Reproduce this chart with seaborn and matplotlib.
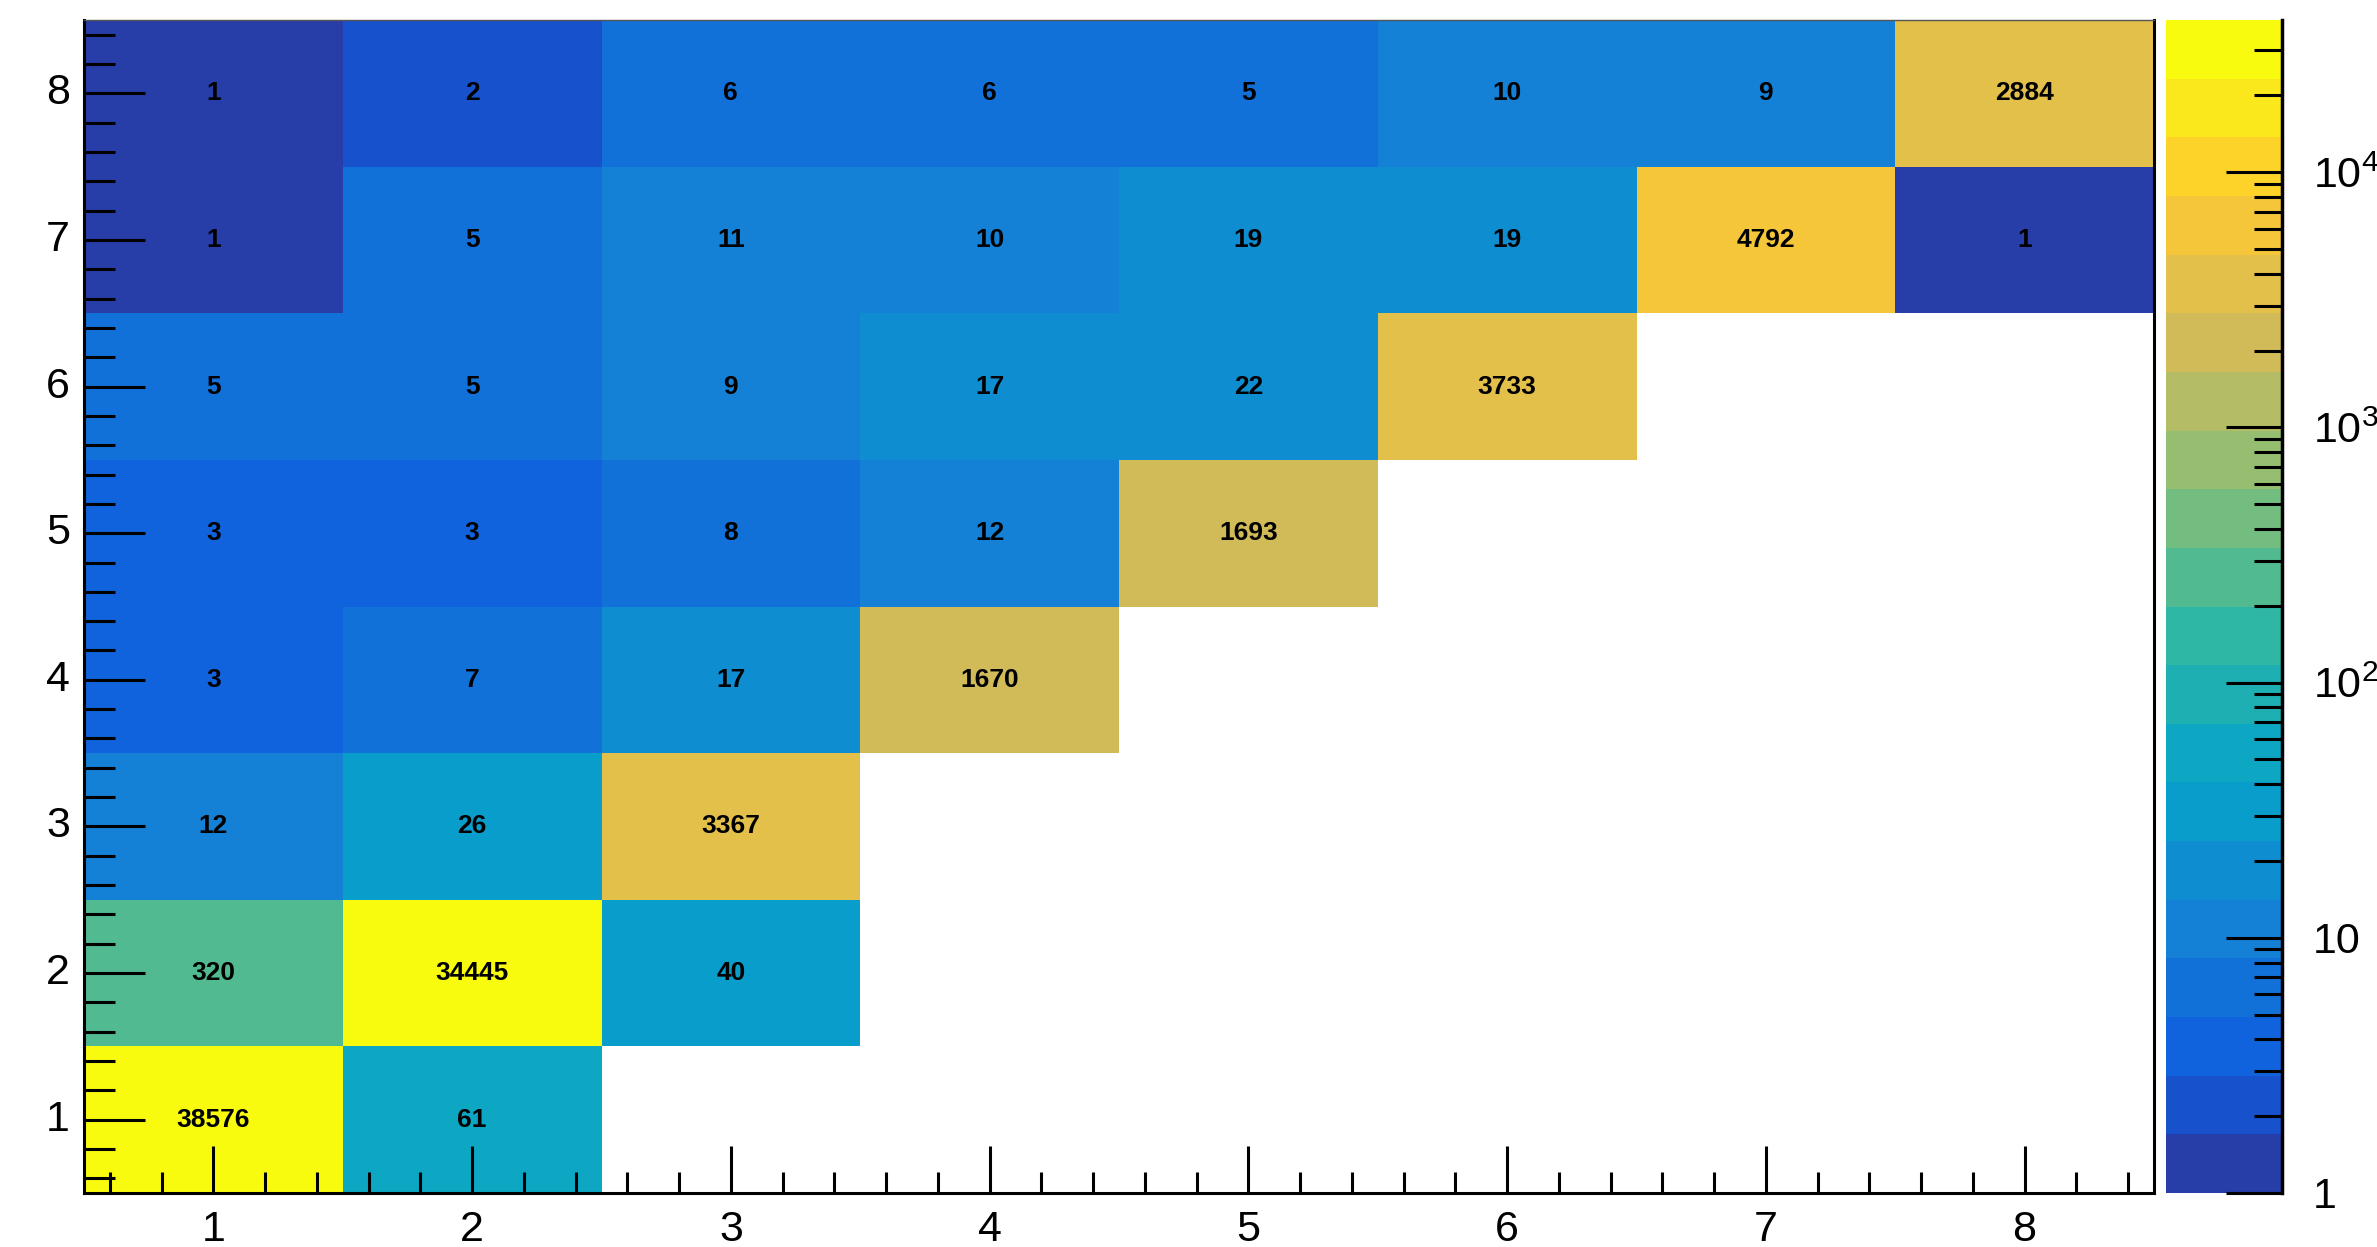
import numpy as np
import pandas as pd
import matplotlib
matplotlib.use("Agg")
import matplotlib.pyplot as plt
import seaborn as sns
from matplotlib.colors import ListedColormap, LogNorm
from matplotlib.ticker import FixedLocator, FixedFormatter, NullFormatter

# ---- data ----
x_labels = ["1", "2", "3", "4", "5", "6", "7", "8"]
y_labels = ["1", "2", "3", "4", "5", "6", "7", "8"]
row_1 = [38576, 61, np.nan, np.nan, np.nan, np.nan, np.nan, np.nan]
row_2 = [320, 34445, 40, np.nan, np.nan, np.nan, np.nan, np.nan]
row_3 = [12, 26, 3367, np.nan, np.nan, np.nan, np.nan, np.nan]
row_4 = [3, 7, 17, 1670, np.nan, np.nan, np.nan, np.nan]
row_5 = [3, 3, 8, 12, 1693, np.nan, np.nan, np.nan]
row_6 = [5, 5, 9, 17, 22, 3733, np.nan, np.nan]
row_7 = [1, 5, 11, 10, 19, 19, 4792, 1]
row_8 = [1, 2, 6, 6, 5, 10, 9, 2884]
z_min = 1
z_max = 39500
n_levels = 20

rows = [row_8, row_7, row_6, row_5, row_4, row_3, row_2, row_1]
df = pd.DataFrame(rows, index=y_labels[::-1], columns=x_labels)

# ---- ROOT kBird palette ----
stops = np.linspace(0, 1, 9)
red = [0.2082, 0.0592, 0.0780, 0.0232, 0.1802, 0.5301, 0.8186, 0.9956, 0.9764]
green = [0.1664, 0.3599, 0.5041, 0.6419, 0.7178, 0.7492, 0.7328, 0.7862, 0.9832]
blue = [0.5293, 0.8684, 0.8385, 0.7914, 0.6425, 0.4662, 0.3499, 0.1968, 0.0539]
colors = []
for i in range(n_levels):
    idx = int((i + 0.99) * 255 / n_levels)
    f = min(idx, 254) / 254.0
    colors.append((np.interp(f, stops, red), np.interp(f, stops, green), np.interp(f, stops, blue)))
cmap = ListedColormap(colors)
cmap.set_bad((1, 1, 1, 0))

plt.rcParams["font.family"] = ["Liberation Sans", "DejaVu Sans"]
plt.rcParams["mathtext.fontset"] = "custom"
plt.rcParams["mathtext.rm"] = "Liberation Sans"
plt.rcParams["mathtext.default"] = "regular"

W, H = 2377, 1247
L, R, T, B = 84, 2154, 20, 1193
fig = plt.figure(figsize=(W / 100, H / 100), dpi=100)
ax = fig.add_axes([L / W, 1 - B / H, (R - L) / W, (B - T) / H])
cax = fig.add_axes([2166 / W, 1 - B / H, (2282 - 2166) / W, (B - T) / H])

sns.heatmap(df, ax=ax, cbar_ax=cax, cmap=cmap, norm=LogNorm(vmin=z_min, vmax=z_max),
            annot=True, fmt=".0f",
            annot_kws={"color": "black", "fontsize": 19, "fontweight": "bold"},
            linewidths=0)

# main axes ticks
ax.set_xticks(np.arange(8) + 0.5)
ax.set_xticklabels(x_labels, rotation=0)
ax.set_yticks(np.arange(8) + 0.5)
ax.set_yticklabels(y_labels[::-1], rotation=0)
minor = [v for v in np.arange(0.1, 8.0, 0.2) if abs((v - 0.5) % 1.0) > 1e-6 and abs((v - 0.5) % 1.0 - 1.0) > 1e-6]
ax.set_xticks(minor, minor=True)
ax.set_yticks(minor, minor=True)
ax.tick_params(axis="both", which="both", direction="in", width=2.2, colors="black", labelsize=31)
ax.tick_params(axis="x", which="major", length=34, pad=12)
ax.tick_params(axis="x", which="minor", length=15)
ax.tick_params(axis="y", which="major", length=44, pad=10)
ax.tick_params(axis="y", which="minor", length=22)
ax.set_xlabel("")
ax.set_ylabel("")
for s in ["left", "bottom", "right"]:
    ax.spines[s].set_visible(True)
    ax.spines[s].set_linewidth(2.2)
    ax.spines[s].set_color("black")
ax.spines["top"].set_visible(True)
ax.spines["top"].set_linewidth(1.0)
ax.spines["top"].set_color("#555555")
ax.set_zorder(2)

# colorbar styling
cb = ax.collections[0].colorbar
cb.outline.set_visible(False)
cax.yaxis.set_ticks_position("right")
maj = [1, 10, 100, 1000, 10000]
cax.yaxis.set_major_locator(FixedLocator(maj))
cax.yaxis.set_major_formatter(FixedFormatter(["1", "10", "$10^{2}$", "$10^{3}$", "$10^{4}$"]))
mins = [m * d for d in [1, 10, 100, 1000, 10000] for m in range(2, 10) if m * d <= z_max]
cax.yaxis.set_minor_locator(FixedLocator(mins))
cax.yaxis.set_minor_formatter(NullFormatter())
cax.tick_params(axis="y", which="both", direction="in", width=2.2, labelsize=31, right=True, left=False)
cax.tick_params(axis="y", which="major", length=40, pad=22)
cax.tick_params(axis="y", which="minor", length=20)
cax.spines["right"].set_visible(True)
cax.spines["right"].set_linewidth(2.5)
cax.spines["right"].set_color("black")

fig.savefig("out.png", dpi=100)
